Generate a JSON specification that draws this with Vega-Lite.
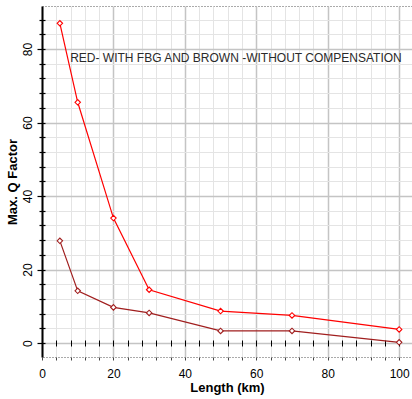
{
  "$schema": "https://vega.github.io/schema/vega-lite/v6.json",
  "width": 370,
  "height": 351,
  "autosize": "none",
  "padding": {"left": 42, "top": 6, "right": 0, "bottom": 42},
  "config": {
    "font": "Liberation Sans",
    "view": {"stroke": "#555555", "strokeDash": [1, 2], "strokeWidth": 1}
  },
  "datasets": {
    "q": [
      {"length": 5, "q": 87.0, "series": "WITH FBG"},
      {"length": 10, "q": 65.5, "series": "WITH FBG"},
      {"length": 20, "q": 34.0, "series": "WITH FBG"},
      {"length": 30, "q": 14.5, "series": "WITH FBG"},
      {"length": 50, "q": 8.7, "series": "WITH FBG"},
      {"length": 70, "q": 7.5, "series": "WITH FBG"},
      {"length": 100, "q": 3.7, "series": "WITH FBG"},
      {"length": 5, "q": 27.8, "series": "WITHOUT COMPENSATION"},
      {"length": 10, "q": 14.2, "series": "WITHOUT COMPENSATION"},
      {"length": 20, "q": 9.7, "series": "WITHOUT COMPENSATION"},
      {"length": 30, "q": 8.2, "series": "WITHOUT COMPENSATION"},
      {"length": 50, "q": 3.3, "series": "WITHOUT COMPENSATION"},
      {"length": 70, "q": 3.3, "series": "WITHOUT COMPENSATION"},
      {"length": 100, "q": 0.2, "series": "WITHOUT COMPENSATION"}
    ],
    "note": [
      {"label": "RED- WITH FBG AND BROWN -WITHOUT COMPENSATION", "x": 54.3, "y": 77.6}
    ]
  },
  "layer": [
    {
      "data": {"name": "q"},
      "mark": {"type": "line", "strokeWidth": 1.2},
      "encoding": {
        "x": {
          "field": "length", "type": "quantitative",
          "scale": {"domain": [0, 103.6], "nice": false, "zero": false},
          "axis": {
            "values": [0,4,8,12,16,20,24,28,32,36,40,44,48,52,56,60,64,68,72,76,80,84,88,92,96,100],
            "labelExpr": "datum.value % 20 === 0 ? datum.label : ''",
            "grid": true,
            "gridColor": {"condition": {"test": "datum.value % 20 === 0", "value": "#c4c4c4"}, "value": "#e4e4e4"},
            "gridWidth": {"condition": {"test": "datum.value % 20 === 0", "value": 1.5}, "value": 1},
            "domain": false,
            "tickSize": 3, "tickColor": "#444444",
            "labelFontSize": 12, "labelColor": "#000000", "labelPadding": 8,
            "labelFlush": false,
            "title": "Length (km)", "titleFontSize": 13, "titleFontWeight": "bold",
            "titleColor": "#000000", "titlePadding": 2
          }
        },
        "y": {
          "field": "q", "type": "quantitative",
          "scale": {"domain": [-3.8, 91.7], "nice": false, "zero": false},
          "axis": {
            "values": [0,4,8,12,16,20,24,28,32,36,40,44,48,52,56,60,64,68,72,76,80,84,88],
            "labelExpr": "datum.value % 20 === 0 ? datum.label : ''",
            "grid": true,
            "gridColor": {"condition": {"test": "datum.value % 20 === 0", "value": "#c4c4c4"}, "value": "#e4e4e4"},
            "gridWidth": {"condition": {"test": "datum.value % 20 === 0", "value": 1.5}, "value": 1},
            "domain": true, "domainColor": "#000000", "domainWidth": 2,
            "tickSize": {"condition": {"test": "datum.value % 20 === 0", "value": 5}, "value": 3},
            "tickColor": "#000000", "tickWidth": 1.2,
            "labelAngle": 270, "labelAlign": "center", "labelBaseline": "bottom",
            "labelFontSize": 12, "labelColor": "#000000", "labelPadding": 3,
            "title": "Max. Q Factor", "titleFontSize": 13, "titleFontWeight": "bold",
            "titleColor": "#000000", "titlePadding": 2
          }
        },
        "color": {
          "field": "series", "type": "nominal",
          "scale": {"domain": ["WITH FBG", "WITHOUT COMPENSATION"], "range": ["#ff0000", "#a01e1e"]},
          "legend": null
        }
      }
    },
    {
      "data": {"name": "q"},
      "mark": {"type": "point", "shape": "diamond", "size": 30, "filled": false, "fill": "#ffffff", "fillOpacity": 1, "strokeWidth": 1.1, "opacity": 1},
      "encoding": {
        "x": {"field": "length", "type": "quantitative", "axis": null},
        "y": {"field": "q", "type": "quantitative", "axis": null},
        "stroke": {
          "field": "series", "type": "nominal",
          "scale": {"domain": ["WITH FBG", "WITHOUT COMPENSATION"], "range": ["#ff0000", "#a01e1e"]},
          "legend": null
        }
      }
    },
    {
      "mark": {"type": "rule", "color": "#000000", "strokeWidth": 1.5},
      "encoding": {
        "y": {"datum": 0, "type": "quantitative", "axis": null}
      }
    },
    {
      "data": {"name": "note"},
      "mark": {"type": "text", "fontSize": 12, "fill": "#2a2a2a", "align": "center", "baseline": "middle"},
      "encoding": {
        "text": {"field": "label", "type": "nominal"},
        "x": {
          "field": "x", "type": "quantitative",
          "axis": {
            "orient": "bottom", "offset": -11,
            "values": [0,4,8,12,16,20,24,28,32,36,40,44,48,52,56,60,64,68,72,76,80,84,88,92,96,100],
            "labels": false, "grid": false, "domain": false, "title": null,
            "tickSize": -6, "tickColor": "#000000", "tickWidth": 1
          }
        },
        "y": {
          "field": "y", "type": "quantitative",
          "axis": {
            "orient": "left",
            "values": [0,4,8,12,16,20,24,28,32,36,40,44,48,52,56,60,64,68,72,76,80,84,88],
            "labels": false, "grid": false, "domain": false, "title": null,
            "tickSize": -3, "tickColor": "#000000", "tickWidth": 1.2
          }
        }
      }
    }
  ],
  "resolve": {"axis": {"x": "independent", "y": "independent"}}
}
